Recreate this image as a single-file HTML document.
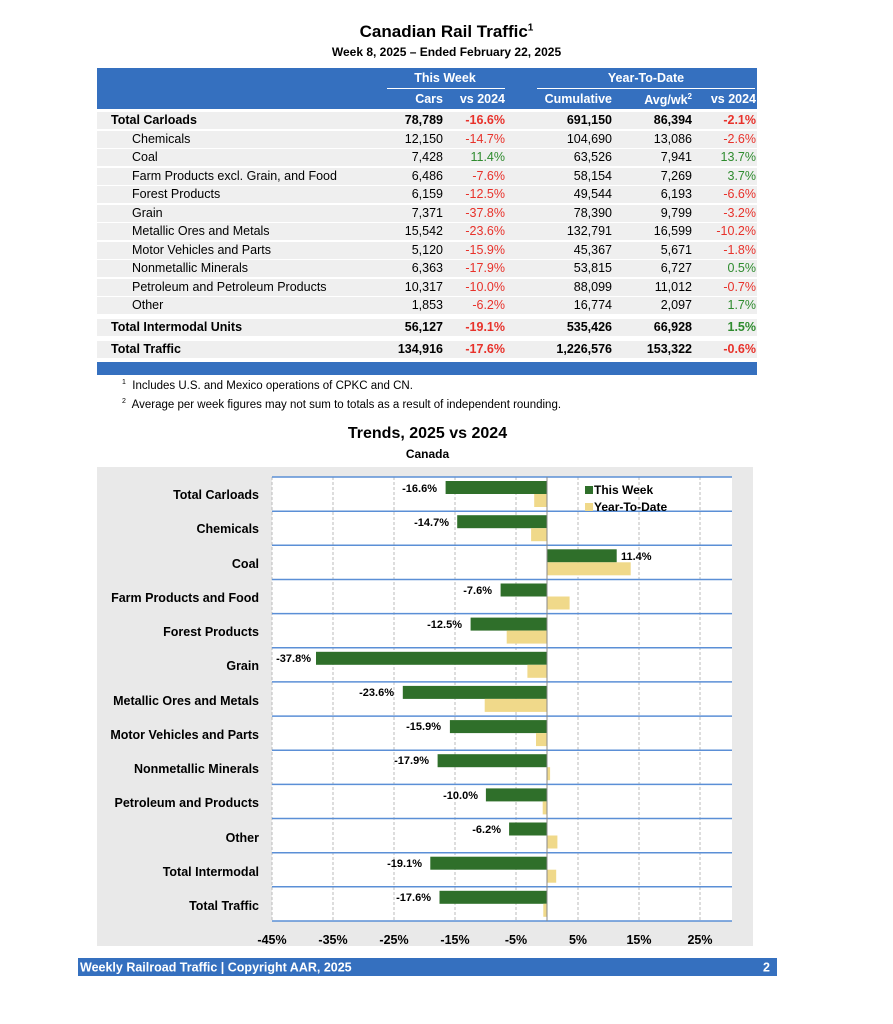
<!DOCTYPE html>
<html><head><meta charset="utf-8"><style>
body{margin:0;background:#fff;width:893px;height:1024px;position:relative;font-family:"Liberation Sans",Arial,sans-serif;overflow:hidden}
.a{position:absolute;white-space:nowrap}
.row{position:absolute;left:97px;width:660px;height:17px;background:#efefef}
.r{position:absolute;text-align:right;font-size:12.5px;top:0;line-height:17px}
.red{color:#e8312a}.grn{color:#2e8b2e}
.b{font-weight:bold}
</style></head><body>
<div class="a b" style="left:0;width:893px;text-align:center;top:22px;font-size:17px">Canadian Rail Traffic<sup style="font-size:10px">1</sup></div>
<div class="a b" style="left:0;width:893px;text-align:center;top:45px;font-size:12px">Week 8, 2025 – Ended February 22, 2025</div>
<div class="a" style="left:97px;top:68px;width:660px;height:41px;background:#3570bf"></div>
<div class="a b" style="left:385px;width:120px;top:71px;text-align:center;color:#fff;font-size:12.5px">This Week</div>
<div class="a" style="left:387px;top:88px;width:118px;height:1px;background:#fff"></div>
<div class="a b" style="left:535px;width:222px;top:71px;text-align:center;color:#fff;font-size:12.5px">Year-To-Date</div>
<div class="a" style="left:537px;top:88px;width:218px;height:1px;background:#fff"></div>
<div class="a b" style="left:300px;width:143px;top:92px;text-align:right;color:#fff;font-size:12.5px">Cars</div>
<div class="a b" style="left:430px;width:75px;top:92px;text-align:right;color:#fff;font-size:12.5px">vs 2024</div>
<div class="a b" style="left:500px;width:112px;top:92px;text-align:right;color:#fff;font-size:12.5px">Cumulative</div>
<div class="a b" style="left:600px;width:92px;top:92px;text-align:right;color:#fff;font-size:12.5px">Avg/wk<sup style="font-size:8px">2</sup></div>
<div class="a b" style="left:690px;width:66px;top:92px;text-align:right;color:#fff;font-size:12.5px">vs 2024</div>

<div class="row" style="top:112px"><span class="r b" style="left:14px;text-align:left">Total Carloads</span><span class="r b" style="right:314px">78,789</span><span class="r b red" style="right:252px">-16.6%</span><span class="r b" style="right:145px">691,150</span><span class="r b" style="right:65px">86,394</span><span class="r b red" style="right:1px">-2.1%</span></div>
<div class="row" style="top:131px"><span class="r" style="left:35px;text-align:left">Chemicals</span><span class="r" style="right:314px">12,150</span><span class="r red" style="right:252px">-14.7%</span><span class="r" style="right:145px">104,690</span><span class="r" style="right:65px">13,086</span><span class="r red" style="right:1px">-2.6%</span></div>
<div class="row" style="top:149px"><span class="r" style="left:35px;text-align:left">Coal</span><span class="r" style="right:314px">7,428</span><span class="r grn" style="right:252px">11.4%</span><span class="r" style="right:145px">63,526</span><span class="r" style="right:65px">7,941</span><span class="r grn" style="right:1px">13.7%</span></div>
<div class="row" style="top:168px"><span class="r" style="left:35px;text-align:left">Farm Products excl. Grain, and Food</span><span class="r" style="right:314px">6,486</span><span class="r red" style="right:252px">-7.6%</span><span class="r" style="right:145px">58,154</span><span class="r" style="right:65px">7,269</span><span class="r grn" style="right:1px">3.7%</span></div>
<div class="row" style="top:186px"><span class="r" style="left:35px;text-align:left">Forest Products</span><span class="r" style="right:314px">6,159</span><span class="r red" style="right:252px">-12.5%</span><span class="r" style="right:145px">49,544</span><span class="r" style="right:65px">6,193</span><span class="r red" style="right:1px">-6.6%</span></div>
<div class="row" style="top:205px"><span class="r" style="left:35px;text-align:left">Grain</span><span class="r" style="right:314px">7,371</span><span class="r red" style="right:252px">-37.8%</span><span class="r" style="right:145px">78,390</span><span class="r" style="right:65px">9,799</span><span class="r red" style="right:1px">-3.2%</span></div>
<div class="row" style="top:223px"><span class="r" style="left:35px;text-align:left">Metallic Ores and Metals</span><span class="r" style="right:314px">15,542</span><span class="r red" style="right:252px">-23.6%</span><span class="r" style="right:145px">132,791</span><span class="r" style="right:65px">16,599</span><span class="r red" style="right:1px">-10.2%</span></div>
<div class="row" style="top:242px"><span class="r" style="left:35px;text-align:left">Motor Vehicles and Parts</span><span class="r" style="right:314px">5,120</span><span class="r red" style="right:252px">-15.9%</span><span class="r" style="right:145px">45,367</span><span class="r" style="right:65px">5,671</span><span class="r red" style="right:1px">-1.8%</span></div>
<div class="row" style="top:260px"><span class="r" style="left:35px;text-align:left">Nonmetallic Minerals</span><span class="r" style="right:314px">6,363</span><span class="r red" style="right:252px">-17.9%</span><span class="r" style="right:145px">53,815</span><span class="r" style="right:65px">6,727</span><span class="r grn" style="right:1px">0.5%</span></div>
<div class="row" style="top:279px"><span class="r" style="left:35px;text-align:left">Petroleum and Petroleum Products</span><span class="r" style="right:314px">10,317</span><span class="r red" style="right:252px">-10.0%</span><span class="r" style="right:145px">88,099</span><span class="r" style="right:65px">11,012</span><span class="r red" style="right:1px">-0.7%</span></div>
<div class="row" style="top:297px"><span class="r" style="left:35px;text-align:left">Other</span><span class="r" style="right:314px">1,853</span><span class="r red" style="right:252px">-6.2%</span><span class="r" style="right:145px">16,774</span><span class="r" style="right:65px">2,097</span><span class="r grn" style="right:1px">1.7%</span></div>
<div class="row" style="top:319px"><span class="r b" style="left:14px;text-align:left">Total Intermodal Units</span><span class="r b" style="right:314px">56,127</span><span class="r b red" style="right:252px">-19.1%</span><span class="r b" style="right:145px">535,426</span><span class="r b" style="right:65px">66,928</span><span class="r b grn" style="right:1px">1.5%</span></div>
<div class="row" style="top:341px"><span class="r b" style="left:14px;text-align:left">Total Traffic</span><span class="r b" style="right:314px">134,916</span><span class="r b red" style="right:252px">-17.6%</span><span class="r b" style="right:145px">1,226,576</span><span class="r b" style="right:65px">153,322</span><span class="r b red" style="right:1px">-0.6%</span></div>
<div class="a" style="left:97px;top:362px;width:660px;height:13px;background:#3570bf"></div>
<div class="a" style="left:122px;top:379px;font-size:11.5px"><sup style="font-size:7px">1</sup>&nbsp; Includes U.S. and Mexico operations of CPKC and CN.</div>
<div class="a" style="left:122px;top:398px;font-size:11.5px"><sup style="font-size:7px">2</sup>&nbsp; Average per week figures may not sum to totals as a result of independent rounding.</div>
<div class="a b" style="left:0;width:855px;text-align:center;top:425px;font-size:16px">Trends, 2025 vs 2024</div>
<div class="a b" style="left:0;width:855px;text-align:center;top:447px;font-size:12px">Canada</div>

<svg class="a" style="left:0;top:0" width="893" height="1024" font-family="Liberation Sans,Arial,sans-serif">
<rect x="97" y="467" width="656" height="479" fill="#e9e9e9"/>
<rect x="272" y="477" width="460" height="444" fill="#fff"/>
<g stroke="#bbb" stroke-dasharray="3,2">
<line x1="333" y1="477" x2="333" y2="921"/><line x1="394" y1="477" x2="394" y2="921"/><line x1="455" y1="477" x2="455" y2="921"/><line x1="516" y1="477" x2="516" y2="921"/><line x1="578" y1="477" x2="578" y2="921"/><line x1="639" y1="477" x2="639" y2="921"/><line x1="700" y1="477" x2="700" y2="921"/><line x1="272" y1="477" x2="272" y2="921"/>
</g>
<g stroke="#5b8fd6" stroke-width="1.5">
<line x1="272" y1="477" x2="732" y2="477"/><line x1="272" y1="511.2" x2="732" y2="511.2"/><line x1="272" y1="545.3" x2="732" y2="545.3"/><line x1="272" y1="579.5" x2="732" y2="579.5"/><line x1="272" y1="613.6" x2="732" y2="613.6"/><line x1="272" y1="647.8" x2="732" y2="647.8"/><line x1="272" y1="681.9" x2="732" y2="681.9"/><line x1="272" y1="716.1" x2="732" y2="716.1"/><line x1="272" y1="750.2" x2="732" y2="750.2"/><line x1="272" y1="784.4" x2="732" y2="784.4"/><line x1="272" y1="818.5" x2="732" y2="818.5"/><line x1="272" y1="852.7" x2="732" y2="852.7"/><line x1="272" y1="886.8" x2="732" y2="886.8"/><line x1="272" y1="921" x2="732" y2="921"/>
</g>
<g fill="#2f6f2a">
<rect x="445.6" y="481" width="101.4" height="13"/><rect x="457.2" y="515.2" width="89.8" height="13"/><rect x="547" y="549.3" width="69.7" height="13"/><rect x="500.6" y="583.5" width="46.4" height="13"/><rect x="470.6" y="617.6" width="76.4" height="13"/><rect x="316" y="651.8" width="231" height="13"/><rect x="402.8" y="685.9" width="144.2" height="13"/><rect x="449.9" y="720.1" width="97.1" height="13"/><rect x="437.6" y="754.2" width="109.4" height="13"/><rect x="485.9" y="788.4" width="61.1" height="13"/><rect x="509.1" y="822.5" width="37.9" height="13"/><rect x="430.3" y="856.7" width="116.7" height="13"/><rect x="439.5" y="890.8" width="107.5" height="13"/>
</g>
<g fill="#f0d98a">
<rect x="534.2" y="494" width="12.8" height="13"/><rect x="531.1" y="528.2" width="15.9" height="13"/><rect x="547" y="562.3" width="83.7" height="13"/><rect x="547" y="596.5" width="22.6" height="13"/><rect x="506.7" y="630.6" width="40.3" height="13"/><rect x="527.4" y="664.8" width="19.6" height="13"/><rect x="484.7" y="698.9" width="62.3" height="13"/><rect x="536" y="733.1" width="11" height="13"/><rect x="547" y="767.2" width="3.1" height="13"/><rect x="542.7" y="801.4" width="4.3" height="13"/><rect x="547" y="835.5" width="10.4" height="13"/><rect x="547" y="869.7" width="9.2" height="13"/><rect x="543.3" y="903.8" width="3.7" height="13"/>
</g>
<line x1="547" y1="477" x2="547" y2="921" stroke="#888"/>
<g font-size="11" font-weight="bold" text-anchor="end">
<text x="437" y="492">-16.6%</text><text x="449" y="526">-14.7%</text><text x="621" y="560" text-anchor="start">11.4%</text><text x="492" y="594">-7.6%</text><text x="462" y="628">-12.5%</text><text x="311" y="662">-37.8%</text><text x="394" y="696">-23.6%</text><text x="441" y="730">-15.9%</text><text x="429" y="764">-17.9%</text><text x="478" y="799">-10.0%</text><text x="501" y="833">-6.2%</text><text x="422" y="867">-19.1%</text><text x="431" y="901">-17.6%</text>
</g>
<rect x="585" y="486" width="8" height="8" fill="#2f6f2a"/><text x="594" y="494" font-size="12" font-weight="bold">This Week</text>
<rect x="585" y="503" width="8" height="8" fill="#f0d98a"/><text x="594" y="511" font-size="12" font-weight="bold">Year-To-Date</text>
<g font-size="12.5" font-weight="bold" text-anchor="end">
<text x="259" y="499">Total Carloads</text><text x="259" y="533">Chemicals</text><text x="259" y="568">Coal</text><text x="259" y="602">Farm Products and Food</text><text x="259" y="636">Forest Products</text><text x="259" y="670">Grain</text><text x="259" y="705">Metallic Ores and Metals</text><text x="259" y="739">Motor Vehicles and Parts</text><text x="259" y="773">Nonmetallic Minerals</text><text x="259" y="807">Petroleum and Products</text><text x="259" y="842">Other</text><text x="259" y="876">Total Intermodal</text><text x="259" y="910">Total Traffic</text>
</g>
<g font-size="12.5" font-weight="bold" text-anchor="middle">
<text x="272" y="944">-45%</text><text x="333" y="944">-35%</text><text x="394" y="944">-25%</text><text x="455" y="944">-15%</text><text x="516" y="944">-5%</text><text x="578" y="944">5%</text><text x="639" y="944">15%</text><text x="700" y="944">25%</text>
</g>
<rect x="78" y="958" width="699" height="18" fill="#3570bf"/>
<text x="80" y="971.5" font-size="12.5" font-weight="bold" fill="#fff">Weekly Railroad Traffic | Copyright AAR, 2025</text>
<text x="770" y="971.5" font-size="12.5" font-weight="bold" fill="#fff" text-anchor="end">2</text>
</svg>
</body></html>
